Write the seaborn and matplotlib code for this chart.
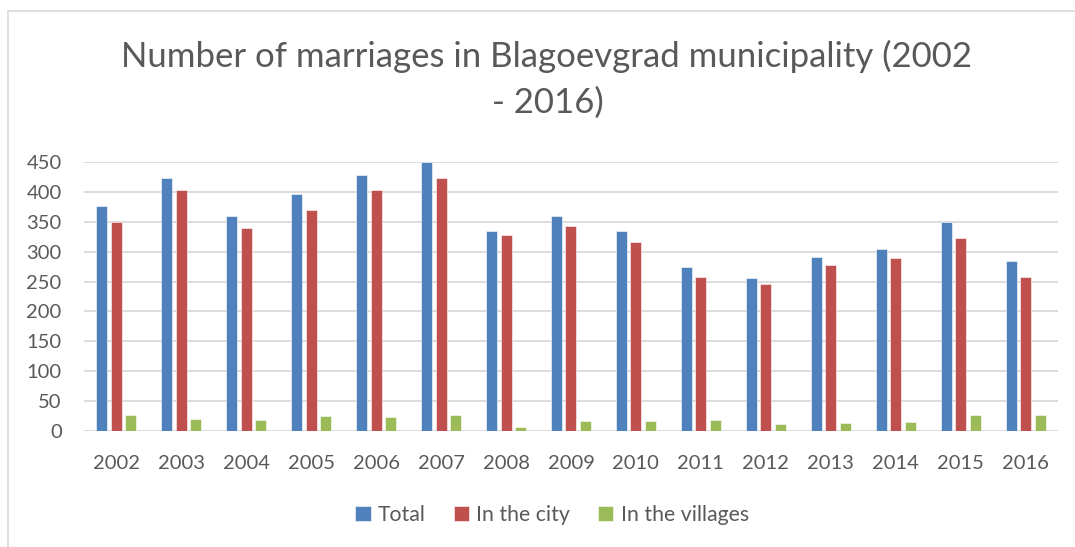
import pandas as pd
import seaborn as sns
import matplotlib.pyplot as plt
from matplotlib.patches import Rectangle

# Data
years = [str(y) for y in range(2002, 2017)]
total = [377, 424, 359, 396, 429, 450, 335, 360, 334, 275, 256, 291, 304, 350, 285]
city = [350, 403, 340, 370, 404, 424, 328, 343, 317, 257, 246, 278, 290, 323, 258]
villages = [27, 20, 18, 25, 23, 26, 7, 17, 17, 18, 11, 14, 15, 27, 26]
series_names = ['Total', 'In the city', 'In the villages']
colors = ['#4F81BD', '#C0504D', '#9BBB59']

df = pd.DataFrame({'year': years, 'Total': total, 'In the city': city,
                   'In the villages': villages})
df_long = df.melt(id_vars='year', var_name='series', value_name='count')

sns.set_style('white')
plt.rcParams['font.family'] = ['Lato', 'DejaVu Sans']
text_color = '#595959'

fig = plt.figure(figsize=(10.75, 5.47), dpi=100)
ax = fig.add_axes([0.0781, 0.2121, 0.9061, 0.4917])

sns.barplot(data=df_long, x='year', y='count', hue='series',
            hue_order=series_names, palette=colors, width=0.67, gap=0.24,
            edgecolor='white', linewidth=0.4, saturation=1, ax=ax, zorder=3)

ax.set_ylim(0, 450)
ax.set_xlim(-0.5, len(years) - 0.5)
ax.set_yticks(range(0, 451, 50))
ax.yaxis.grid(True, color='#D9D9D9', linewidth=1.3, zorder=0)
ax.set_axisbelow(True)
for s in ax.spines.values():
    s.set_visible(False)
ax.set_xlabel('')
ax.set_ylabel('')
ax.tick_params(axis='both', length=0, labelsize=14.5, colors=text_color)
ax.tick_params(axis='x', pad=17)
ax.tick_params(axis='y', pad=16)

ax.legend(loc='center', bbox_to_anchor=(0.5135, 0.0585),
          bbox_transform=fig.transFigure, ncol=3, frameon=False,
          fontsize=15.3, handlelength=0.72, handleheight=0.72,
          handletextpad=0.35, columnspacing=1.3, labelcolor=text_color)

# wrapped title, two lines like the original
fig.text(0.5084, 0.8775, 'Number of marriages in Blagoevgrad municipality (2002',
         ha='center', va='baseline', fontsize=25, color=text_color)
fig.text(0.5098, 0.7934, '- 2016)', ha='center', va='baseline',
         fontsize=25, color=text_color)

# chart frame (cropped on the right and bottom)
fig.patches.append(Rectangle((8 / 1075, -0.1), 1.2, 1 - 11 / 547 + 0.1,
                             transform=fig.transFigure, fill=False,
                             edgecolor='#D9D9D9', linewidth=1.2))

fig.savefig('out.png', dpi=100)
